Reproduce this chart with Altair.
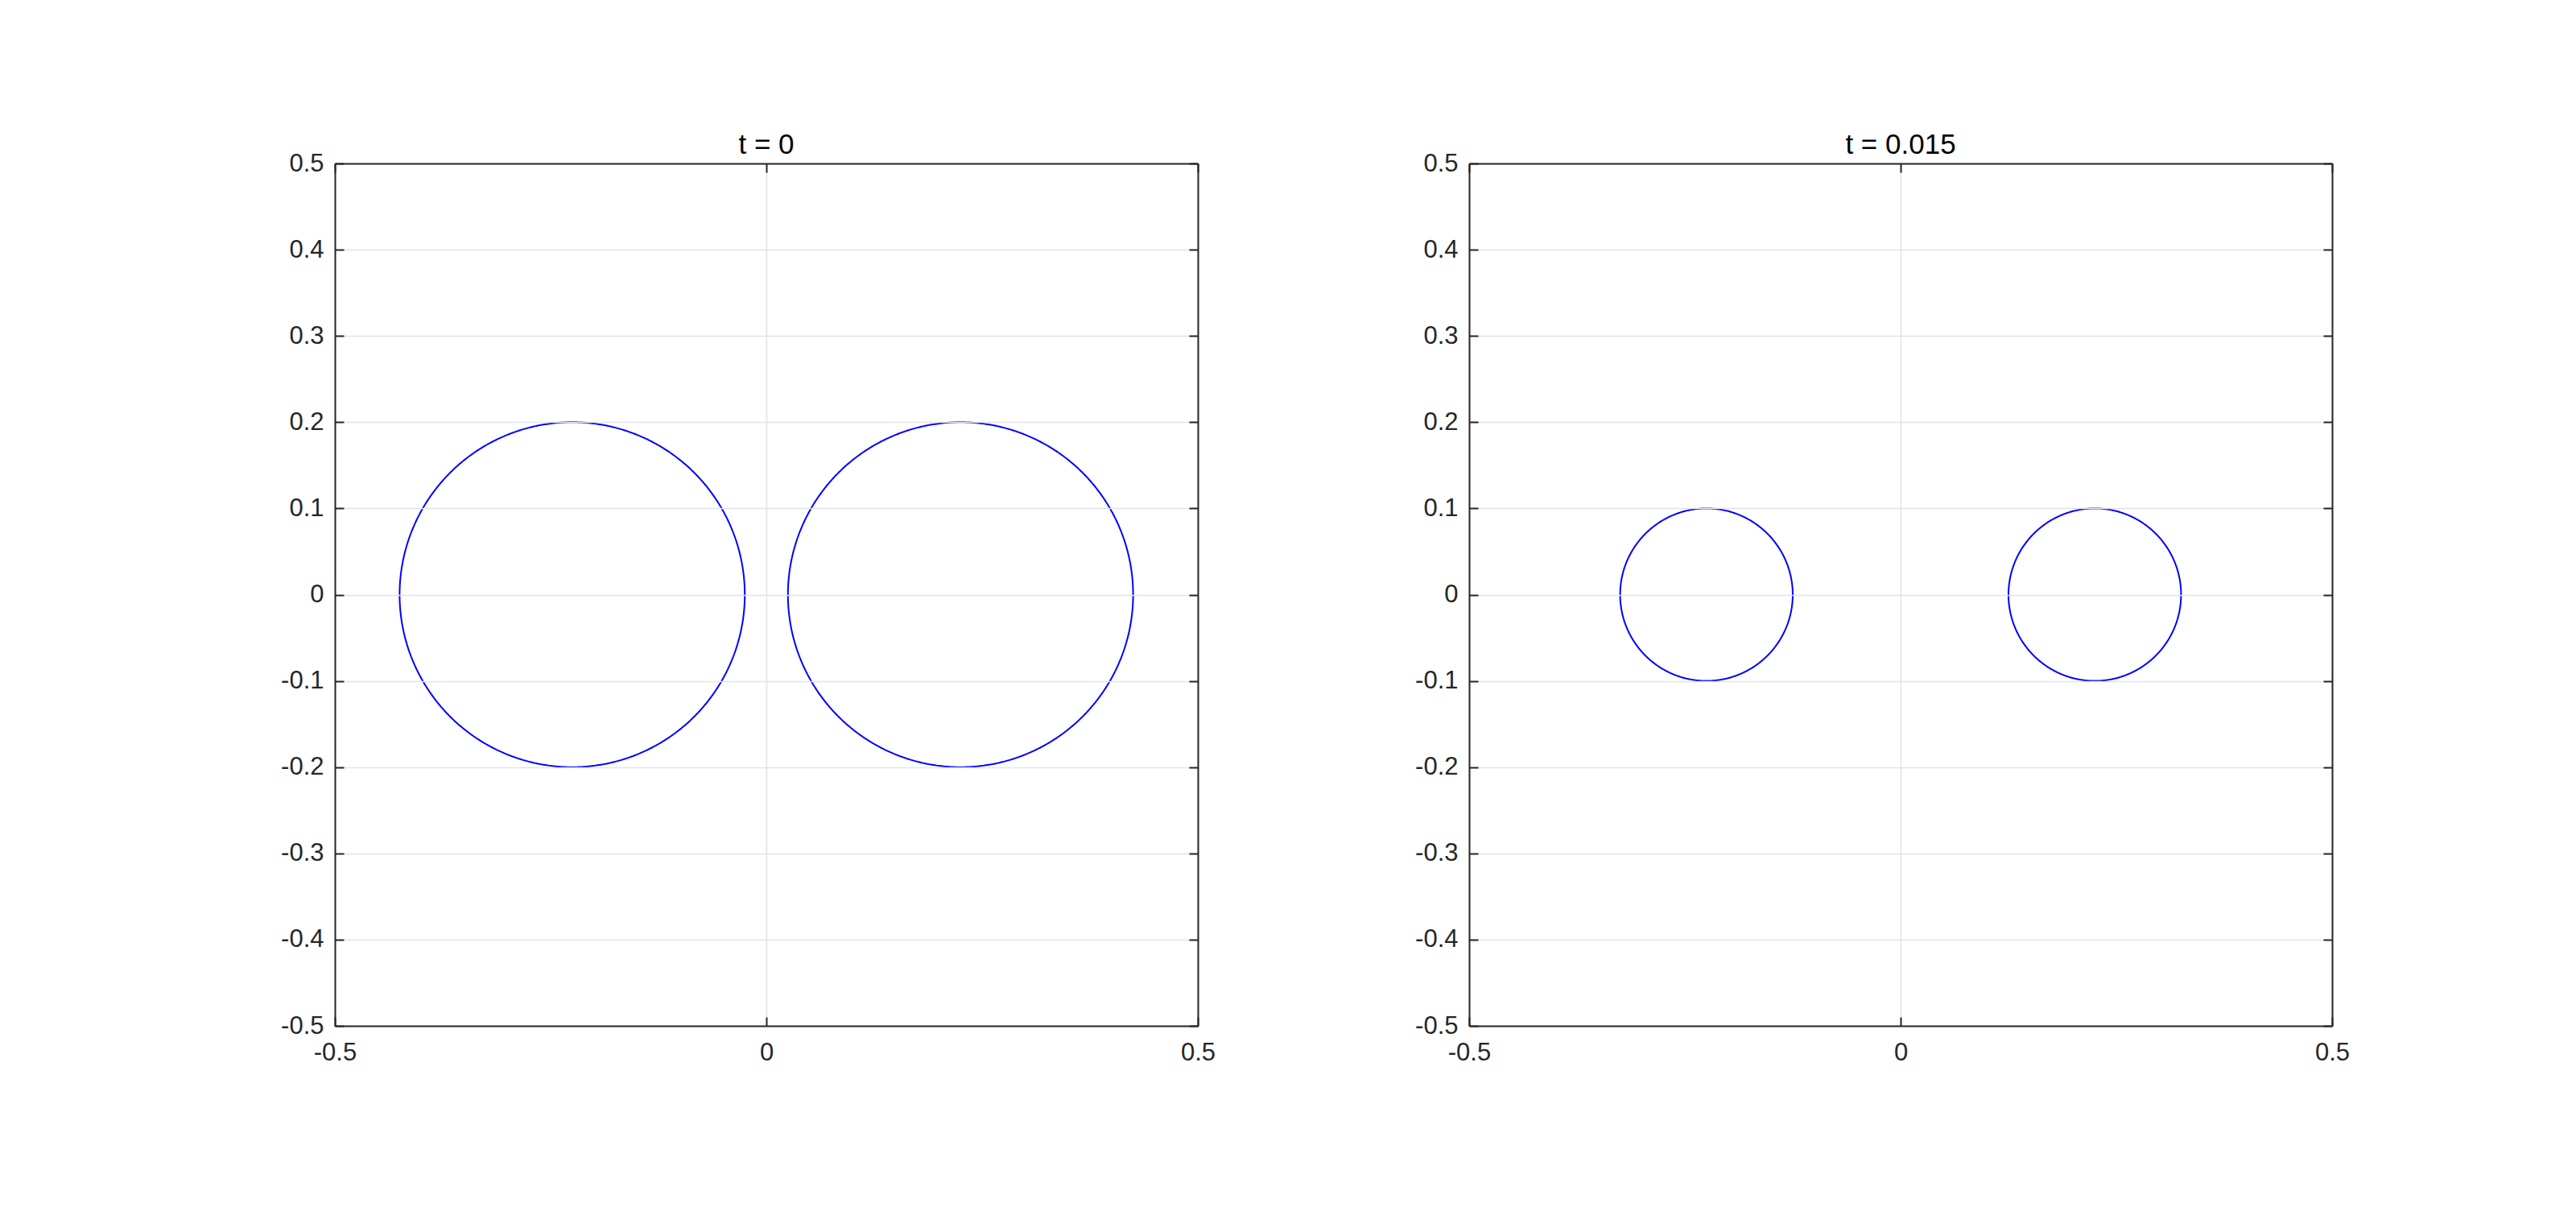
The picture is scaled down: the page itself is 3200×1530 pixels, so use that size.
import altair as alt
import numpy as np
import pandas as pd

# ---- data ----
panel_titles = ["t = 0", "t = 0.015"]
circle_cx = [-0.225, 0.225]          # centres of the two circles (same in both panels)
circle_cy = [0.0, 0.0]
panel_radius = [0.2, 0.1]            # circle radius in each panel
x_ticks = [-0.5, 0, 0.5]
y_ticks = [-0.5, -0.4, -0.3, -0.2, -0.1, 0, 0.1, 0.2, 0.3, 0.4, 0.5]
axis_domain = [-0.5, 0.5]

W, H = 1072, 1071
FONT = "Liberation Sans"
DARK = "#262626"
GRID = "#e3e3e3"
TICK = 11


def circle_frame(radius):
    theta = np.linspace(0, 2 * np.pi, 721)
    rows = []
    for ci, (cx, cy) in enumerate(zip(circle_cx, circle_cy)):
        for k, th in enumerate(theta):
            rows.append({"c": ci, "k": k,
                         "x": cx + radius * np.cos(th),
                         "y": cy + radius * np.sin(th)})
    return pd.DataFrame(rows)


def panel(i):
    df = circle_frame(panel_radius[i])
    base = alt.Chart(df)
    sx = alt.Scale(domain=axis_domain, nice=False, zero=False)
    sy = alt.Scale(domain=axis_domain, nice=False, zero=False)
    lbl = "'' + datum.value"

    main = base.mark_line(color="#0000ff", strokeWidth=2).encode(
        x=alt.X("x:Q", scale=sx, axis=alt.Axis(
            values=x_ticks, orient="bottom", title=None, grid=True,
            gridColor=GRID, gridWidth=1.5, ticks=False, tickSize=0,
            domain=True, domainColor=DARK, domainWidth=2,
            labelExpr=lbl, labelFont=FONT, labelFontSize=31,
            labelColor=DARK, labelPadding=18, labelFlush=False, zindex=1)),
        y=alt.Y("y:Q", scale=sy, axis=alt.Axis(
            values=y_ticks, orient="left", title=None, grid=True,
            gridColor=GRID, gridWidth=1.5, ticks=False, tickSize=0,
            domain=True, domainColor=DARK, domainWidth=2,
            labelExpr=lbl, labelFont=FONT, labelFontSize=31,
            labelColor=DARK, labelPadding=14, labelBaseline="middle",
            labelFlush=False, minExtent=80, maxExtent=80, zindex=1)),
        order="k:Q", detail="c:N")

    # inward ticks on the left and bottom edges
    ticks_a = base.mark_line(strokeOpacity=0).encode(
        x=alt.X("x:Q", scale=sx, axis=alt.Axis(
            values=x_ticks, orient="top", offset=-H, title=None, grid=False,
            labels=False, domain=False, ticks=True, tickSize=TICK,
            tickColor=DARK, tickWidth=2, zindex=1)),
        y=alt.Y("y:Q", scale=sy, axis=alt.Axis(
            values=y_ticks, orient="right", offset=-W, title=None, grid=False,
            labels=False, domain=False, ticks=True, tickSize=TICK,
            tickColor=DARK, tickWidth=2, zindex=1)),
        order="k:Q", detail="c:N")

    # inward ticks and border on the top and right edges
    ticks_b = base.mark_line(strokeOpacity=0).encode(
        x=alt.X("x:Q", scale=sx, axis=alt.Axis(
            values=x_ticks, orient="bottom", offset=-H, title=None, grid=False,
            labels=False, domain=True, domainColor=DARK, domainWidth=2,
            ticks=True, tickSize=TICK, tickColor=DARK, tickWidth=2, zindex=1)),
        y=alt.Y("y:Q", scale=sy, axis=alt.Axis(
            values=y_ticks, orient="left", offset=-W, title=None, grid=False,
            labels=False, domain=True, domainColor=DARK, domainWidth=2,
            ticks=True, tickSize=TICK, tickColor=DARK, tickWidth=2, zindex=1)),
        order="k:Q", detail="c:N")

    return alt.layer(main, ticks_a, ticks_b).resolve_axis(
        x="independent", y="independent").properties(
        width=W, height=H,
        title=alt.TitleParams(panel_titles[i], font=FONT, fontSize=35,
                              fontWeight="normal", color="#000000",
                              anchor="middle", frame="group",
                              baseline="alphabetic", offset=-39))


chart = alt.hconcat(panel(0), panel(1), spacing=337, bounds="flush").properties(
    padding={"left": 328, "top": 155, "right": 5, "bottom": 5},
    background="white",
).configure_view(stroke=None)

chart.save("out.html", embed_options={"renderer": "svg", "actions": False})
